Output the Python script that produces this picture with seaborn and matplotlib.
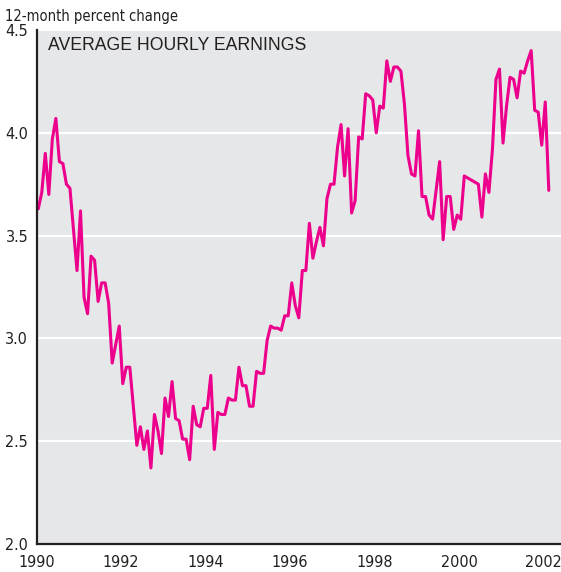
import numpy as np
import pandas as pd
import matplotlib.pyplot as plt
import seaborn as sns

# 12-month percent change in average hourly earnings, monthly Jan 1990 - Feb 2002
y1990 = [3.63, 3.71, 3.90, 3.70, 3.97, 4.07, 3.86, 3.85, 3.75, 3.73, 3.53, 3.33]
y1991 = [3.62, 3.20, 3.12, 3.40, 3.38, 3.18, 3.27, 3.27, 3.17, 2.88, 2.97, 3.06]
y1992 = [2.78, 2.86, 2.86, 2.67, 2.48, 2.57, 2.46, 2.55, 2.37, 2.63, 2.55, 2.44]
y1993 = [2.71, 2.62, 2.79, 2.61, 2.60, 2.51, 2.51, 2.41, 2.67, 2.58, 2.57, 2.66]
y1994 = [2.66, 2.82, 2.46, 2.64, 2.63, 2.63, 2.71, 2.70, 2.70, 2.86, 2.77, 2.77]
y1995 = [2.67, 2.67, 2.84, 2.83, 2.83, 2.99, 3.06, 3.05, 3.05, 3.04, 3.11, 3.11]
y1996 = [3.27, 3.16, 3.10, 3.33, 3.33, 3.56, 3.39, 3.47, 3.54, 3.45, 3.68, 3.75]
y1997 = [3.75, 3.93, 4.04, 3.79, 4.02, 3.61, 3.67, 3.98, 3.97, 4.19, 4.18, 4.16]
y1998 = [4.00, 4.13, 4.12, 4.35, 4.25, 4.32, 4.32, 4.30, 4.14, 3.89, 3.80, 3.79]
y1999 = [4.01, 3.69, 3.69, 3.60, 3.58, 3.72, 3.86, 3.48, 3.69, 3.69, 3.53, 3.60]
y2000 = [3.58, 3.79, 3.78, 3.77, 3.76, 3.75, 3.59, 3.80, 3.71, 3.92, 4.26, 4.31]
y2001 = [3.95, 4.13, 4.27, 4.26, 4.17, 4.30, 4.29, 4.35, 4.40, 4.11, 4.10, 3.94]
y2002 = [4.15, 3.72]

year_ticks = [1990, 1992, 1994, 1996, 1998, 2000, 2002]
value_ticks = [2.0, 2.5, 3.0, 3.5, 4.0, 4.5]

values = (y1990 + y1991 + y1992 + y1993 + y1994 + y1995 + y1996
          + y1997 + y1998 + y1999 + y2000 + y2001 + y2002)
month = np.arange(len(values))
df = pd.DataFrame({'date': 1990 + (month + 0.5) / 12, 'change': values})

sns.set_theme(style='white', rc={'axes.facecolor': '#e6e7e8',
                                 'grid.color': 'white',
                                 'grid.linewidth': 1.6})
plt.rcParams['font.family'] = ['DejaVu Sans']
plt.rcParams['font.stretch'] = 'condensed'

ink = '#231f20'
fig = plt.figure(figsize=(5.61, 5.72), dpi=100)
ax = fig.add_axes([36.5 / 561, 28 / 572, 1 - 36.5 / 561, 514 / 572])

sns.lineplot(data=df, x='date', y='change', color='#ec008c', linewidth=2.2, ax=ax)

ax.set_xlim(1990, 1990 + (561 - 36.5) / 42.25)
ax.set_ylim(2.0, 4.5)
ax.set_xticks(year_ticks)
ax.set_xticklabels([str(y) for y in year_ticks])
ax.set_yticks(value_ticks)
ax.set_yticklabels(['%.1f' % v for v in value_ticks])
ax.yaxis.grid(True)
ax.xaxis.grid(False)
ax.set_xlabel('')
ax.set_ylabel('')

for side in ['top', 'right']:
    ax.spines[side].set_visible(False)
for side in ['left', 'bottom']:
    ax.spines[side].set_color(ink)
    ax.spines[side].set_linewidth(1.6)

ax.tick_params(axis='both', direction='in', length=12, width=1.6, color=ink,
               labelcolor=ink, labelsize=11.5)
ax.tick_params(axis='y', pad=6)
ax.tick_params(axis='x', pad=8)

fig.text(5 / 561, 1 - 16 / 572, '12-month percent change', fontsize=10.5,
         color=ink, ha='left', va='center')
fig.text(48 / 561, 1 - 46 / 572, 'AVERAGE HOURLY EARNINGS', fontsize=12.7,
         color=ink, ha='left', va='center', stretch='normal',
         family=['Liberation Sans', 'DejaVu Sans'])

fig.savefig('out.png', dpi=100)
